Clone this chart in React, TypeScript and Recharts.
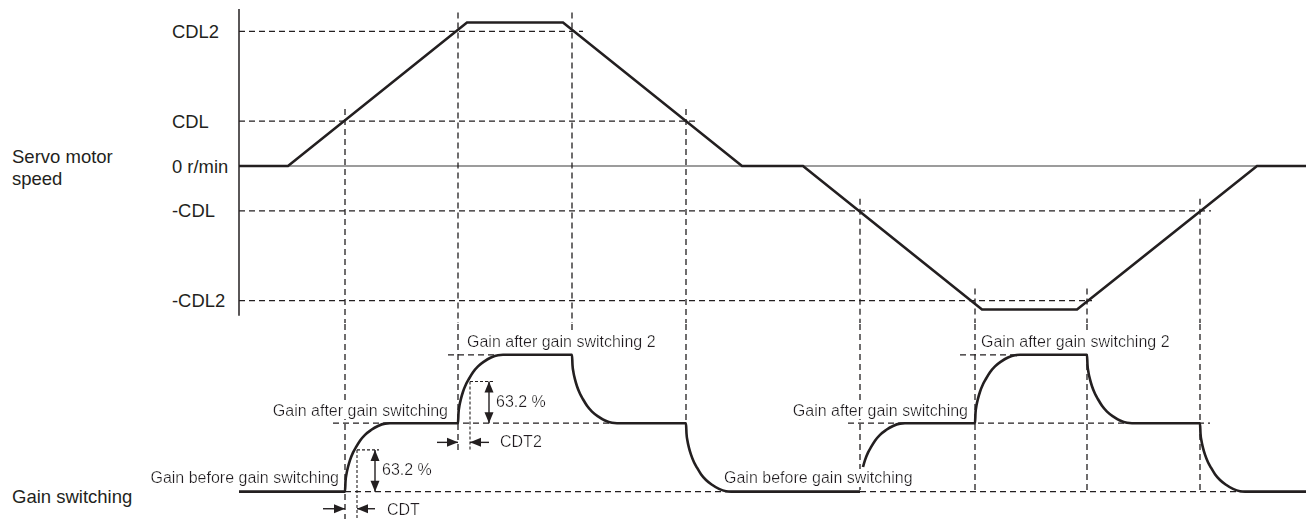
import React from 'react';
import { LineChart, Line, XAxis, YAxis, ReferenceLine, ReferenceDot } from 'recharts';

const INK = '#231f20';
const FONT = '"Liberation Sans", Arial, sans-serif';

// time axis (ms), 0 is where the speed axis stands
const timeSpan = [0, 1067];

// servo motor speed (r/min)
const speedTimes = [0, 49, 228, 324, 503, 564, 743, 838, 1018, 1067];
const speedValues = [0, 0, 3200, 3200, 0, 0, -3200, -3200, 0, 0];

// levels marked on the speed axis
const speedLevels = [3000, 1000, 0, -1000, -3000];
const speedLabels = ['CDL2', 'CDL', '0 r/min', '-CDL', '-CDL2'];
const levelGuideEnds = [344, 458, 0, 972, 853];

// gain switching events (1 = before, 2 = after, 3 = after 2)
const switchTimes = [106, 219, 333, 447, 621, 736, 848, 961];
const gainFrom = [1, 2, 3, 2, 1, 2, 3, 2];
const gainTo = [2, 3, 2, 1, 2, 3, 2, 1];
const switchGuideTop = [1270, 3420, 3420, 1270, -730, -2730, -2730, -730];
const switchGuideBottom = [0.6, 1.6, 3.35, 2, 1, 1, 1, 1];
const curveSkip = [0, 0, 0, 0, 3, 0, 0, 0]; // 5th curve starts part way up

// shape of one switching step: ms after switch, share of the step
const stepTime = [0, 0.5, 1.5, 3, 5, 8, 11, 15, 20, 26, 33, 40, 45];
const stepShare = [0, 0.15, 0.26, 0.36, 0.46, 0.57, 0.65, 0.745, 0.83, 0.9, 0.96, 0.994, 1];

// dashed gain level guides
const gainGuideLevel = [2, 3, 1, 2, 3, 1];
const gainGuideFrom = [94, 209, 106, 609, 721, 621];
const gainGuideTo = [447, 333, 496, 971, 848, 1006];

// time constant marks
const cdtTimes = [118, 231];
const cdtLevels = [1.61, 2.61];
const cdtBottoms = [0.6, 1.6];
const cdtArrowTimes = [136, 250];
const cdtArrowBase = [1, 2];
const cdtRow = [0.75, 1.72];
const cdtTailL = [84, 198];
const cdtTailR = [136, 250];

const gainLabels = [
  { text: 'Gain before gain switching', t: 100, g: 1.12, anchor: 'end' },
  { text: 'Gain after gain switching', t: 209, g: 2.11, anchor: 'end' },
  { text: 'Gain after gain switching 2', t: 228, g: 3.11, anchor: 'start' },
  { text: 'Gain before gain switching', t: 485, g: 1.12, anchor: 'start' },
  { text: 'Gain after gain switching', t: 729, g: 2.11, anchor: 'end' },
  { text: 'Gain after gain switching 2', t: 742, g: 3.11, anchor: 'start' },
  { text: '63.2 %', t: 143, g: 1.24, anchor: 'start' },
  { text: '63.2 %', t: 257, g: 2.23, anchor: 'start' },
  { text: 'CDT', t: 148, g: 0.66, anchor: 'start' },
  { text: 'CDT2', t: 261, g: 1.65, anchor: 'start' },
];

const speedData = speedTimes.map((t, i) => ({ t, v: speedValues[i] }));

const gainData: { t: number; g: number | null }[] = [{ t: 0, g: 1 }];
switchTimes.forEach((s, i) => {
  gainData.push({ t: s, g: gainFrom[i] });
  if (curveSkip[i] > 0) gainData.push({ t: s + 0.5, g: null });
  stepTime.forEach((dt, k) => {
    if (dt === 0 || dt < curveSkip[i]) return;
    gainData.push({ t: s + dt, g: gainFrom[i] + (gainTo[i] - gainFrom[i]) * stepShare[k] });
  });
});
gainData.push({ t: timeSpan[1], g: 1 });

const head = (x: number, y: number, dx: number, dy: number) => {
  const bx = x - dx * 11;
  const by = y - dy * 11;
  return `${x},${y} ${bx - dy * 4.5},${by + dx * 4.5} ${bx + dy * 4.5},${by - dx * 4.5}`;
};

const arrowShape = (both: boolean) => (p: any) => {
  const len = Math.hypot(p.x2 - p.x1, p.y2 - p.y1) || 1;
  const ux = (p.x2 - p.x1) / len;
  const uy = (p.y2 - p.y1) / len;
  return (
    <g>
      <line x1={p.x1} y1={p.y1} x2={p.x2} y2={p.y2} stroke={INK} strokeWidth={1.4} />
      <polygon points={head(p.x2, p.y2, ux, uy)} fill={INK} />
      {both && <polygon points={head(p.x1, p.y1, -ux, -uy)} fill={INK} />}
    </g>
  );
};

const dash = { stroke: INK, strokeWidth: 1.3, strokeDasharray: '6 4' };
const dot = { stroke: INK, strokeWidth: 1.1, strokeDasharray: '3 2' };

const SpeedTick = (props: any) => {
  const idx = speedLevels.indexOf(props.payload.value);
  return (
    <text x={172} y={props.y} dy={6.6} fontSize={18.4} fontFamily={FONT} fill={INK}>
      {speedLabels[idx]}
    </text>
  );
};

const sideLabel: React.CSSProperties = {
  position: 'absolute',
  left: 12,
  fontFamily: FONT,
  fontSize: 18.5,
  lineHeight: '22px',
  color: INK,
};

const gainMargin = { top: 0, right: 0, bottom: 0, left: 239 };

export default function App() {
  return (
    <div style={{ position: 'absolute', left: 0, top: 0, width: 1306, height: 519, background: '#fff' }}>
      <div style={{ ...sideLabel, top: 146 }}>Servo motor<br />speed</div>
      <div style={{ ...sideLabel, top: 486 }}>Gain switching</div>

      <div style={{ position: 'absolute', left: 0, top: 0 }}>
        <LineChart width={1306} height={324} data={speedData} margin={{ top: 9, right: 0, bottom: 1, left: 0 }}>
          <XAxis type="number" dataKey="t" domain={timeSpan} hide allowDataOverflow />
          <YAxis
            type="number"
            domain={[-3500, 3500]}
            ticks={speedLevels}
            width={239}
            axisLine={false}
            tickLine={false}
            tick={SpeedTick}
            allowDataOverflow
            interval={0}
          />
          <ReferenceLine y={0} stroke="#3a3a3a" strokeWidth={1.2} />
          {speedLevels.map((lv, i) =>
            lv === 0 ? null : (
              <ReferenceLine key={`lv${i}`} segment={[{ x: 0, y: lv }, { x: levelGuideEnds[i], y: lv }]} {...dash} />
            )
          )}
          {switchTimes.map((s, i) => (
            <ReferenceLine key={`sw${i}`} segment={[{ x: s, y: switchGuideTop[i] }, { x: s, y: -3500 }]} {...dash} />
          ))}
          <ReferenceLine segment={[{ x: 0, y: 3500 }, { x: 0, y: -3340 }]} stroke={INK} strokeWidth={1.5} />
          <Line
            type="linear"
            dataKey="v"
            stroke={INK}
            strokeWidth={2.6}
            dot={false}
            isAnimationActive={false}
          />
        </LineChart>
      </div>

      <div style={{ position: 'absolute', left: 0, top: 324 }}>
        <LineChart width={1306} height={195} data={gainData} margin={gainMargin}>
          <XAxis type="number" dataKey="t" domain={timeSpan} hide allowDataOverflow />
          <YAxis type="number" domain={[0.6, 3.45]} hide allowDataOverflow />
          {switchTimes.map((s, i) => (
            <ReferenceLine key={`gs${i}`} segment={[{ x: s, y: 3.45 }, { x: s, y: switchGuideBottom[i] }]} {...dash} />
          ))}
          {gainGuideLevel.map((lv, i) => (
            <ReferenceLine
              key={`gg${i}`}
              segment={[{ x: gainGuideFrom[i], y: lv }, { x: gainGuideTo[i], y: lv }]}
              {...dash}
            />
          ))}
          {cdtTimes.map((t, i) => (
            <ReferenceLine key={`cv${i}`} segment={[{ x: t, y: cdtLevels[i] }, { x: t, y: cdtBottoms[i] }]} {...dot} />
          ))}
          {cdtTimes.map((t, i) => (
            <ReferenceLine
              key={`ch${i}`}
              segment={[{ x: t, y: cdtLevels[i] }, { x: cdtArrowTimes[i] + 4, y: cdtLevels[i] }]}
              {...dot}
            />
          ))}
          {cdtArrowTimes.map((t, i) => (
            <ReferenceLine
              key={`ca${i}`}
              segment={[{ x: t, y: cdtLevels[i] }, { x: t, y: cdtArrowBase[i] }]}
              shape={arrowShape(true)}
            />
          ))}
          {cdtRow.map((r, i) => (
            <ReferenceLine
              key={`cl${i}`}
              segment={[{ x: cdtTailL[i], y: r }, { x: switchTimes[i], y: r }]}
              shape={arrowShape(false)}
            />
          ))}
          {cdtRow.map((r, i) => (
            <ReferenceLine
              key={`cr${i}`}
              segment={[{ x: cdtTailR[i], y: r }, { x: cdtTimes[i], y: r }]}
              shape={arrowShape(false)}
            />
          ))}
          <Line
            type="monotone"
            dataKey="g"
            stroke={INK}
            strokeWidth={2.6}
            dot={false}
            connectNulls={false}
            isAnimationActive={false}
          />
        </LineChart>
      </div>

      {/* labels on top, each on a white box so they mask the guides */}
      <div style={{ position: 'absolute', left: 0, top: 324 }}>
        <LineChart width={1306} height={195} data={gainData} margin={gainMargin}>
          <XAxis type="number" dataKey="t" domain={timeSpan} hide allowDataOverflow />
          <YAxis type="number" domain={[0.6, 3.45]} hide allowDataOverflow />
          {gainLabels.map((l, i) => (
            <ReferenceDot
              key={`lb${i}`}
              x={l.t}
              y={l.g}
              r={0}
              shape={(p: any) => (
                <g>
                  <defs>
                    <filter id={`lbbg${i}`} x="0" y="0" width="1" height="1">
                      <feFlood floodColor="#fff" />
                      <feComposite in="SourceGraphic" operator="over" />
                    </filter>
                  </defs>
                  <text
                    x={p.cx}
                    y={p.cy}
                    textAnchor={l.anchor as any}
                    fontSize={16}
                    fontFamily={FONT}
                    fill={INK}
                    filter={`url(#lbbg${i})`}
                  >
                    {l.text}
                  </text>
                </g>
              )}
            />
          ))}
        </LineChart>
      </div>
    </div>
  );
}
